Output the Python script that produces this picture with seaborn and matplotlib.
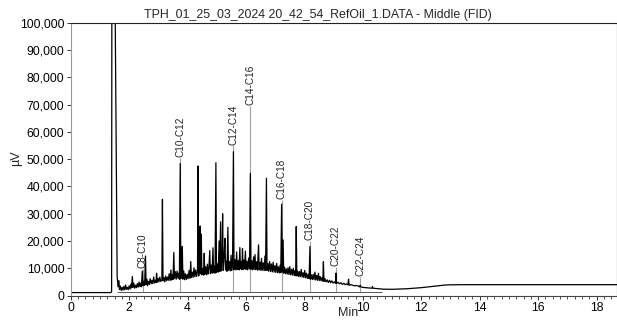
import numpy as np
import pandas as pd
import seaborn as sns
import matplotlib
matplotlib.use("Agg")
import matplotlib.pyplot as plt
from matplotlib.ticker import FuncFormatter, MultipleLocator

# trace: (retention time in min, signal in 1000 uV)
solvent_peak = [(0.00, 1.1), (1.38, 1.1), (1.40, 1.6), (1.41, 125), (1.50, 125),
                (1.525, 100), (1.59, 7.0)]

early_trace = [(1.62, 3.2), (1.65, 5.5), (1.67, 2.2), (1.70, 3.5), (1.73, 1.9), (1.76, 3.0),
               (1.79, 2.0), (1.82, 3.4), (1.85, 2.1), (1.88, 3.9), (1.91, 2.3), (1.94, 3.0),
               (1.97, 2.2), (2.00, 3.6), (2.03, 2.4), (2.06, 4.2), (2.08, 2.8), (2.11, 7.0),
               (2.13, 3.0), (2.16, 4.6), (2.19, 2.7), (2.22, 3.8), (2.25, 2.9), (2.28, 4.4),
               (2.31, 3.1), (2.34, 5.0), (2.37, 3.3), (2.40, 4.6), (2.42, 3.2), (2.45, 9.0),
               (2.47, 3.6), (2.50, 5.2), (2.53, 3.8), (2.56, 14.5), (2.58, 4.0), (2.61, 6.0),
               (2.63, 3.6), (2.66, 5.2), (2.69, 4.1), (2.72, 6.2), (2.75, 4.3), (2.78, 5.6),
               (2.81, 4.4), (2.84, 6.8), (2.87, 4.6), (2.90, 5.6), (2.92, 4.8), (2.94, 8.2),
               (2.96, 4.9), (2.99, 6.3), (3.02, 5.0), (3.05, 6.8), (3.08, 5.2), (3.12, 5.6),
               (3.14, 35.3), (3.16, 5.4), (3.19, 6.6), (3.22, 5.0), (3.25, 7.2), (3.28, 5.4),
               (3.31, 6.8), (3.34, 5.6), (3.37, 8.0), (3.40, 5.5), (3.43, 9.4), (3.45, 5.7),
               (3.48, 7.6), (3.50, 5.9), (3.53, 15.8), (3.55, 6.2), (3.58, 8.8), (3.61, 6.0),
               (3.64, 9.0), (3.67, 6.4), (3.70, 8.2), (3.72, 6.0), (3.75, 48.4), (3.77, 6.2),
               (3.80, 8.5), (3.82, 18.0), (3.84, 6.0), (3.87, 9.0), (3.90, 5.8), (3.93, 8.0),
               (3.96, 5.9), (3.99, 7.8), (4.02, 6.2), (4.05, 9.2), (4.08, 6.3), (4.11, 12.5),
               (4.13, 6.6), (4.16, 8.6), (4.19, 6.7), (4.22, 10.2), (4.25, 6.9), (4.28, 9.4),
               (4.31, 7.0), (4.34, 8.8), (4.36, 47.5), (4.38, 7.2), (4.41, 9.6), (4.43, 25.5),
               (4.45, 8.0), (4.47, 22.5), (4.49, 7.6), (4.52, 10.0), (4.55, 7.5), (4.57, 15.5),
               (4.59, 7.8), (4.62, 10.6), (4.65, 7.6), (4.68, 11.5), (4.70, 7.9), (4.73, 10.0),
               (4.76, 16.5), (4.78, 8.0), (4.81, 11.2), (4.84, 8.2), (4.87, 17.5), (4.89, 8.4),
               (4.92, 10.8), (4.94, 8.2)]

hump_trace = [(4.97, 48.7), (4.99, 8.5), (5.02, 11.6), (5.05, 8.6), (5.08, 20.0), (5.10, 8.8),
              (5.13, 27.0), (5.15, 9.0), (5.18, 13.0), (5.20, 30.0), (5.22, 9.2), (5.25, 14.0),
              (5.28, 21.0), (5.30, 9.4), (5.33, 12.6), (5.35, 8.9), (5.38, 25.0), (5.40, 9.3),
              (5.43, 12.5), (5.46, 9.0), (5.49, 14.8), (5.51, 9.2), (5.54, 11.8), (5.57, 52.7),
              (5.59, 9.5), (5.62, 13.2), (5.65, 9.4), (5.68, 16.0), (5.70, 9.6), (5.73, 12.8),
              (5.76, 9.4), (5.79, 17.6), (5.81, 9.8), (5.84, 12.4), (5.86, 9.5), (5.88, 17.2),
              (5.90, 9.6), (5.93, 13.0), (5.95, 9.8), (5.98, 16.3), (6.00, 9.6), (6.03, 12.6),
              (6.06, 9.4), (6.09, 13.8), (6.12, 9.8), (6.15, 44.8), (6.17, 9.6), (6.20, 12.8),
              (6.23, 9.4), (6.26, 14.2), (6.28, 9.6), (6.31, 15.0), (6.33, 9.5), (6.36, 12.4),
              (6.39, 9.3), (6.41, 14.0), (6.43, 18.6), (6.45, 9.4), (6.48, 12.2), (6.51, 9.2),
              (6.53, 13.6), (6.56, 9.3), (6.59, 12.0), (6.62, 9.1), (6.65, 14.5), (6.67, 9.3),
              (6.70, 43.0), (6.72, 9.2), (6.75, 11.8), (6.78, 8.9), (6.81, 12.5), (6.84, 8.8),
              (6.87, 11.6), (6.90, 8.7), (6.93, 12.2), (6.96, 8.6), (6.99, 11.0), (7.02, 8.5),
              (7.05, 11.8), (7.08, 8.4), (7.11, 10.6), (7.14, 8.3), (7.17, 11.2), (7.19, 8.4),
              (7.22, 33.5), (7.24, 8.6), (7.27, 20.4), (7.29, 8.2), (7.32, 10.4), (7.35, 8.0),
              (7.38, 9.8), (7.41, 7.9), (7.44, 10.2), (7.47, 7.7), (7.50, 10.6), (7.53, 7.6),
              (7.56, 9.6), (7.59, 7.5), (7.62, 10.0), (7.65, 7.3), (7.68, 9.2), (7.70, 7.3),
              (7.72, 25.3), (7.74, 7.2), (7.77, 9.0), (7.80, 7.0), (7.83, 8.8), (7.86, 6.9),
              (7.89, 9.6), (7.92, 6.8), (7.95, 8.4), (7.98, 6.6), (8.01, 9.2), (8.04, 6.5),
              (8.07, 8.2), (8.10, 6.3), (8.13, 7.8), (8.16, 6.2), (8.19, 18.0), (8.21, 6.0),
              (8.24, 7.6), (8.27, 5.9), (8.30, 7.8), (8.33, 5.8), (8.36, 8.6), (8.39, 5.7),
              (8.42, 7.4), (8.45, 5.6), (8.48, 8.2), (8.51, 5.5), (8.54, 7.0), (8.57, 5.4),
              (8.60, 6.6), (8.63, 5.3), (8.65, 12.4), (8.67, 5.2), (8.70, 6.2), (8.74, 5.0),
              (8.78, 5.8), (8.82, 4.8), (8.86, 5.6), (8.90, 4.7), (8.94, 5.4), (8.98, 4.6),
              (9.02, 5.0), (9.06, 4.5), (9.08, 8.2), (9.10, 4.4), (9.15, 4.9), (9.20, 4.3),
              (9.25, 4.7), (9.30, 4.1), (9.35, 4.5), (9.40, 4.0), (9.45, 4.3), (9.49, 3.9),
              (9.51, 6.0), (9.53, 3.8), (9.60, 4.0), (9.70, 3.6), (9.80, 3.7), (9.89, 3.2),
              (9.91, 3.8), (9.93, 3.2), (10.00, 3.0), (10.10, 2.9), (10.20, 2.8), (10.31, 2.7),
              (10.33, 3.3), (10.35, 2.7), (10.45, 2.6), (10.55, 2.5), (10.62, 2.45)]

late_trace = [(10.70, 2.35), (11.00, 2.3), (11.50, 2.5), (12.00, 2.9), (12.50, 3.5),
              (12.80, 3.85), (13.00, 3.95), (13.50, 4.0), (14.00, 4.0), (15.00, 4.0),
              (16.00, 4.0), (17.00, 4.0), (18.00, 4.0), (18.70, 4.0)]

# carbon range markers
range_names = ["C8-C10", "C10-C12", "C12-C14", "C14-C16", "C16-C18", "C18-C20", "C20-C22", "C22-C24"]
range_rt = [2.47, 3.75, 5.57, 6.15, 7.22, 8.19, 9.08, 9.91]
range_label_kuv = [9.8, 50.3, 55.0, 69.4, 35.0, 20.0, 10.5, 6.9]

baseline_kuv = 1.3
baseline_span = (1.58, 10.65)

title = "TPH_01_25_03_2024 20_42_54_RefOil_1.DATA - Middle (FID)"

rows = solvent_peak + early_trace + hump_trace + late_trace
df = pd.DataFrame(rows, columns=["Min", "kuV"])
df["uV"] = df["kuV"] * 1000

sns.set_style("ticks")
plt.rcParams["font.family"] = ["Liberation Sans", "DejaVu Sans"]

fig = plt.figure(figsize=(6.17, 3.2), dpi=100)
ax = fig.add_axes([0.1146, 0.0763, 0.8854, 0.8528])

# label leader lines (grey) under the trace
ax.vlines(range_rt, baseline_kuv * 1000, np.array(range_label_kuv) * 1000,
          colors="#a0a0a0", lw=0.8, zorder=1)
ax.hlines(baseline_kuv * 1000, baseline_span[0], baseline_span[1], colors="#555555", lw=0.7, zorder=1)

sns.lineplot(data=df, x="Min", y="uV", ax=ax, color="black", lw=0.9,
             estimator=None, sort=False, zorder=2)

for name, rt, top in zip(range_names, range_rt, range_label_kuv):
    ax.text(rt, top * 1000 + 300, name, rotation=90, ha="center", va="bottom",
            fontsize=7.2, color="#222222")

ax.set_xlim(0, 18.7)
ax.set_ylim(0, 100000)
ax.xaxis.set_major_locator(MultipleLocator(2))
ax.xaxis.set_minor_locator(MultipleLocator(0.25))
ax.yaxis.set_major_locator(MultipleLocator(10000))
ax.yaxis.set_major_formatter(FuncFormatter(lambda v, p: f"{int(v):,}"))
ax.tick_params(axis="both", which="major", labelsize=8.8, length=3, width=0.7, pad=1.5, colors="#333333")
ax.tick_params(axis="x", which="minor", length=2, width=0.6, colors="#333333")
for lbl in ax.get_xticklabels() + ax.get_yticklabels():
    lbl.set_color("black")

ax.set_xlabel("")
ax.set_ylabel("")
for side in ["top", "right"]:
    ax.spines[side].set_visible(True)
ax.spines["top"].set_color("#222222")
ax.spines["right"].set_color("#222222")
ax.spines["left"].set_color("#999999")
ax.spines["bottom"].set_color("#444444")
for s in ax.spines.values():
    s.set_linewidth(0.8)

fig.text(318 / 617, 1 - 15 / 320, title, ha="center", va="center", fontsize=8.9)
fig.text(16 / 617, 1 - 158 / 320, "µV", rotation=90, ha="center", va="center", fontsize=9)
fig.text(348 / 617, 1 - 313 / 320, "Min", ha="center", va="center", fontsize=9)

fig.savefig("out.png", dpi=100)
